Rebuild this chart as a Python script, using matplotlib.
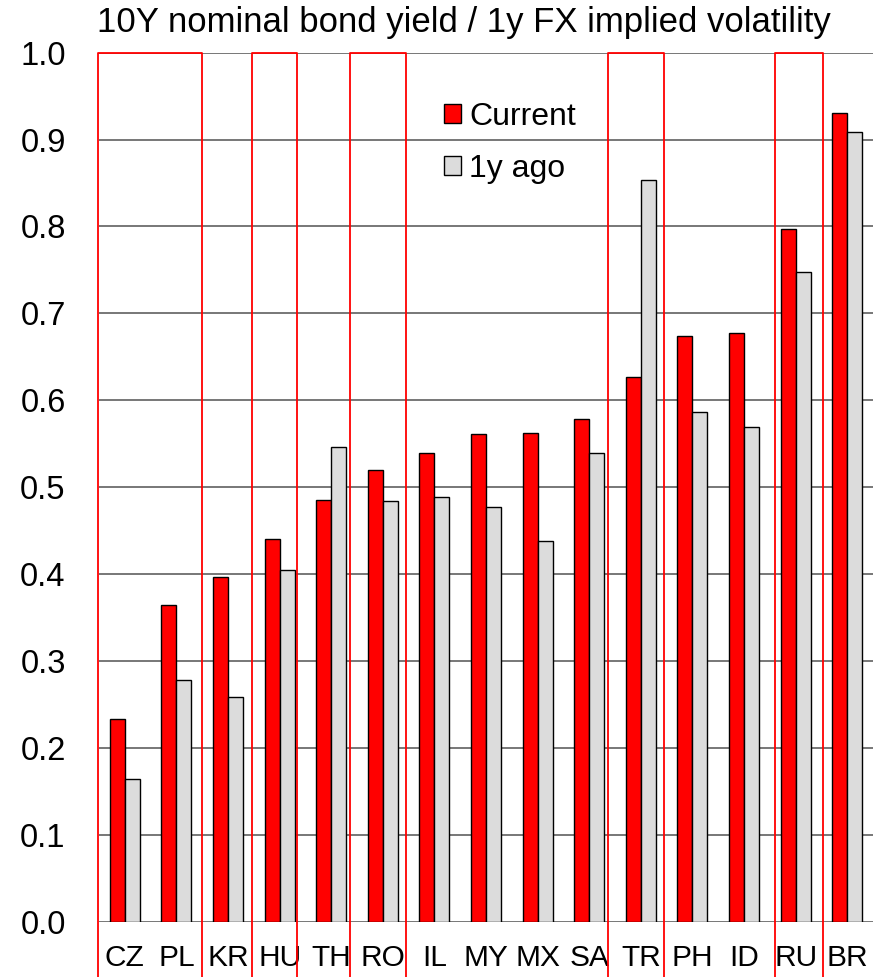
import matplotlib
matplotlib.use("Agg")
import matplotlib.pyplot as plt
import numpy as np

plt.rcParams['font.family'] = ['Liberation Sans', 'DejaVu Sans']

countries = ["CZ", "PL", "KR", "HU", "TH", "RO", "IL", "MY", "MX", "SA",
             "TR", "PH", "ID", "RU", "BR"]
current = [0.233, 0.365, 0.397, 0.441, 0.485, 0.520, 0.539, 0.561, 0.563, 0.579,
           0.627, 0.674, 0.677, 0.797, 0.931]
year_ago = [0.165, 0.278, 0.259, 0.405, 0.546, 0.484, 0.489, 0.477, 0.438, 0.540,
            0.853, 0.587, 0.569, 0.748, 0.909]
y_ticks = [0.0, 0.1, 0.2, 0.3, 0.4, 0.5, 0.6, 0.7, 0.8, 0.9, 1.0]

# highlighted country groups (left/right edges in category units)
highlight_spans = [(-0.52, 1.50), (2.47, 3.34), (4.36, 5.45), (9.36, 10.45), (12.60, 13.53)]

fig = plt.figure(figsize=(8.79, 9.77), dpi=100)
ax = fig.add_axes([0.1126, 0.0563, 0.8806, 0.8899])

x = np.arange(len(countries))
w = 0.29
ax.bar(x - w / 2, current, width=w, color="#ff0000", edgecolor="black",
       linewidth=1.0, label="Current", zorder=3)
ax.bar(x + w / 2, year_ago, width=w, color="#dcdcdc", edgecolor="black",
       linewidth=1.0, label="1y ago", zorder=3)

ax.set_xlim(-0.5, len(countries) - 0.5)
ax.set_ylim(0, 1.0)
ax.set_yticks(y_ticks)
ax.set_yticklabels([f"{v:.1f}" for v in y_ticks], fontsize=23.5)
ax.set_xticks(x)
ax.set_xticklabels(countries, fontsize=21.5)
ax.tick_params(axis="y", length=0, pad=24)
ax.tick_params(axis="x", length=0, pad=16)
for s in ax.spines.values():
    s.set_visible(False)
for v in y_ticks:
    ax.axhline(v, color="#606060", linewidth=1.2, zorder=1)

for x0, x1 in highlight_spans:
    ax.plot([x0, x0, x1, x1], [-0.07, 1.0, 1.0, -0.07], color="#ff0000",
            linewidth=1.3, clip_on=False, zorder=4)

fig.text(0.110, 0.977, "10Y nominal bond yield / 1y FX implied volatility",
         fontsize=25, ha="left", va="center")

ax.legend(loc="upper left", bbox_to_anchor=(0.4295, 0.958), frameon=False,
          fontsize=23, handlelength=0.53, handleheight=0.53, handletextpad=0.25,
          labelspacing=0.68, borderaxespad=0)

fig.savefig("out.png", dpi=100)
